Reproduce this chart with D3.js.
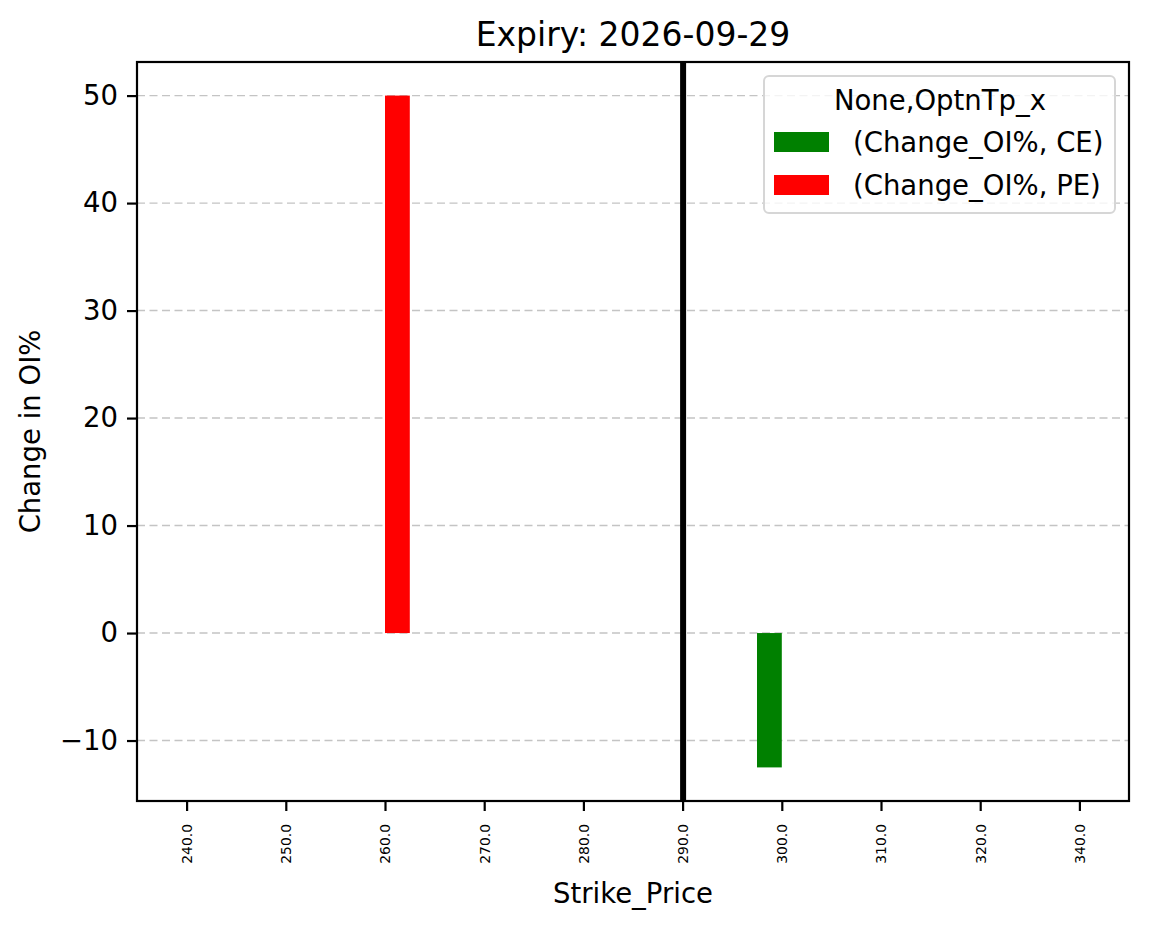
<!DOCTYPE html>
<html>
<head>
<meta charset="utf-8">
<script src="https://cdn.jsdelivr.net/npm/d3@7"></script>
<style>
  html, body { margin: 0; padding: 0; background: #fff; }
  svg { display: block; }
  svg text { font-family: "DejaVu Sans", sans-serif; }
</style>
</head>
<body>
<svg id="chart" width="1149" height="928"></svg>
<script>
// ---- data ----
const strikes = ["240.0", "250.0", "260.0", "270.0", "280.0", "290.0", "300.0", "310.0", "320.0", "340.0"];
const ceChange = [null, null, null, null, null, null, -12.5, null, null, null];
const peChange = [null, null, 50, null, null, null, null, null, null, null];
const yTicks = [-10, 0, 10, 20, 30, 40, 50];
const spotStrike = "290.0";
const titleText = "Expiry: 2026-09-29";
const xLabel = "Strike_Price";
const yLabel = "Change in OI%";
const legendTitle = "None,OptnTp_x";
const seriesNames = ["(Change_OI%, CE)", "(Change_OI%, PE)"];
const seriesColors = ["#008000", "#ff0000"];

// ---- layout ----
const L = 137, R = 1129, T = 62, B = 801;
const FONT = "DejaVu Sans";
const svg = d3.select("#chart");

const x = d3.scaleLinear().domain([-0.5, strikes.length - 0.5]).range([L, R]);
const y = d3.scaleLinear().domain([-15.625, 53.125]).range([B, T]);
const barW = 0.25;

// grid
svg.append("g").selectAll("line").data(yTicks).join("line")
  .attr("x1", L).attr("x2", R)
  .attr("y1", d => y(d)).attr("y2", d => y(d))
  .attr("stroke", "#c4c4c4").attr("stroke-width", 1.4)
  .attr("stroke-dasharray", "8,4.5");

// bars
const series = [ceChange, peChange];
series.forEach((vals, s) => {
  const off = s === 0 ? -barW : 0;
  svg.append("g").selectAll("rect")
    .data(vals.map((v, i) => ({ v, i })).filter(d => d.v !== null))
    .join("rect")
    .attr("x", d => x(d.i + off))
    .attr("width", d => x(d.i + off + barW) - x(d.i + off))
    .attr("y", d => y(Math.max(0, d.v)))
    .attr("height", d => Math.abs(y(d.v) - y(0)))
    .attr("fill", seriesColors[s]);
});

// vertical line at spot strike
const si = strikes.indexOf(spotStrike);
svg.append("line")
  .attr("x1", x(si) + 0.5).attr("x2", x(si) + 0.5)
  .attr("y1", T).attr("y2", B)
  .attr("stroke", "#000").attr("stroke-width", 6);

// axes
const xAxis = d3.axisBottom(x)
  .tickValues(d3.range(strikes.length))
  .tickFormat(i => strikes[i])
  .tickSize(10).tickSizeOuter(0);
const gx = svg.append("g").attr("transform", `translate(0,${B})`).call(xAxis)
  .attr("font-family", FONT).attr("font-size", 13.9);
gx.select(".domain").remove();
gx.selectAll(".tick line").attr("stroke", "#000").attr("stroke-width", 2.2);
gx.selectAll(".tick text")
  .attr("fill", "#000")
  .attr("transform", "rotate(-90)")
  .attr("text-anchor", "end")
  .attr("x", -23)
  .attr("y", 0)
  .attr("dy", "0.35em");

const yAxis = d3.axisLeft(y).tickValues(yTicks).tickSize(10).tickSizeOuter(0).tickPadding(9);
const gy = svg.append("g").attr("transform", `translate(${L},0)`).call(yAxis)
  .attr("font-family", FONT).attr("font-size", 27.5);
gy.select(".domain").remove();
gy.selectAll(".tick line").attr("stroke", "#000").attr("stroke-width", 2.2);
gy.selectAll(".tick text").attr("fill", "#000");

// frame
svg.append("rect")
  .attr("x", L).attr("y", T).attr("width", R - L).attr("height", B - T)
  .attr("fill", "none").attr("stroke", "#000").attr("stroke-width", 2.2);

// title & labels
svg.append("text").attr("x", (L + R) / 2).attr("y", 46)
  .attr("text-anchor", "middle").attr("font-size", 33).attr("fill", "#000")
  .text(titleText);
svg.append("text").attr("x", (L + R) / 2).attr("y", 903)
  .attr("text-anchor", "middle").attr("font-size", 27.5).attr("fill", "#000")
  .text(xLabel);
svg.append("text")
  .attr("transform", `translate(40,${(T + B) / 2}) rotate(-90)`)
  .attr("text-anchor", "middle").attr("font-size", 27.5).attr("fill", "#000")
  .text(yLabel);

// legend
const lg = svg.append("g");
lg.append("rect")
  .attr("x", 764).attr("y", 76).attr("width", 351).attr("height", 137)
  .attr("rx", 5).attr("ry", 5)
  .attr("fill", "#fff").attr("fill-opacity", 0.8)
  .attr("stroke", "#d6d6d6").attr("stroke-width", 2);
lg.append("text").attr("x", 940).attr("y", 110)
  .attr("text-anchor", "middle").attr("font-size", 27.5).attr("fill", "#000")
  .text(legendTitle);
seriesNames.forEach((name, k) => {
  const yy = 132 + k * 43;
  lg.append("rect").attr("x", 774).attr("y", yy).attr("width", 55).attr("height", 20)
    .attr("fill", seriesColors[k]);
  lg.append("text").attr("x", 853).attr("y", yy + 20)
    .attr("font-size", 27.5).attr("fill", "#000")
    .text(name);
});
</script>
</body>
</html>
